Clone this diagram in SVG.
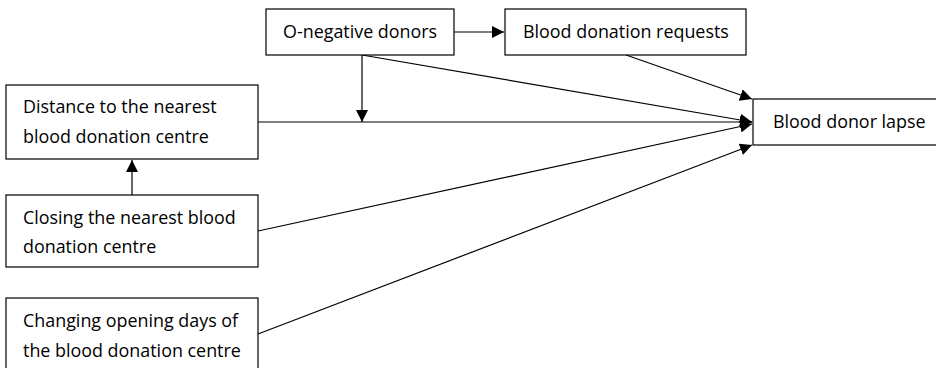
<svg xmlns="http://www.w3.org/2000/svg" width="936" height="368" viewBox="0 0 936 368">
<style>
.box{fill:#fff;stroke:#000;stroke-width:1.2}
.t{font-family:"Open Sans","Liberation Sans",sans-serif;font-size:17.9px;fill:#000}
.c{stroke:#000;stroke-width:1.2;fill:none;marker-end:url(#ah)}
</style>
<defs>
<marker id="ah" viewBox="0 0 12 12" refX="12" refY="6" markerWidth="12" markerHeight="12" markerUnits="userSpaceOnUse" orient="auto">
<path d="M0,0 L12,6 L0,12 z" fill="#000"/>
</marker>
</defs>
<rect width="936" height="368" fill="#fff"/>
<g id="connectors">
<line class="c" x1="454" y1="32" x2="504" y2="32"/>
<line class="c" x1="626" y1="55" x2="752" y2="99"/>
<line class="c" x1="362" y1="55" x2="752" y2="122"/>
<line class="c" x1="362" y1="55" x2="362" y2="122"/>
<line class="c" x1="258" y1="122" x2="752" y2="122"/>
<line class="c" x1="258" y1="231" x2="752" y2="124"/>
<line class="c" x1="258" y1="334" x2="752" y2="145"/>
<line class="c" x1="132" y1="195" x2="132" y2="160"/>
</g>
<g id="onegative">
<rect class="box" x="266" y="9" width="188" height="46"/>
<text class="t" x="283" y="38">O-negative donors</text>
</g>
<g id="requests">
<rect class="box" x="505" y="9" width="241" height="46"/>
<text class="t" x="523" y="38">Blood donation requests</text>
</g>
<g id="lapse">
<rect class="box" x="753" y="99" width="190" height="46"/>
<text class="t" x="773" y="128">Blood donor lapse</text>
</g>
<g id="distance">
<rect class="box" x="6" y="85" width="252" height="74"/>
<text class="t" x="23" y="113">Distance to the nearest</text>
<text class="t" x="23" y="143">blood donation centre</text>
</g>
<g id="closing">
<rect class="box" x="6" y="195" width="252" height="72"/>
<text class="t" x="23" y="224">Closing the nearest blood</text>
<text class="t" x="23" y="253">donation centre</text>
</g>
<g id="changing">
<rect class="box" x="6" y="298" width="252" height="80"/>
<text class="t" x="23" y="327">Changing opening days of</text>
<text class="t" x="23" y="357">the blood donation centre</text>
</g>
</svg>
